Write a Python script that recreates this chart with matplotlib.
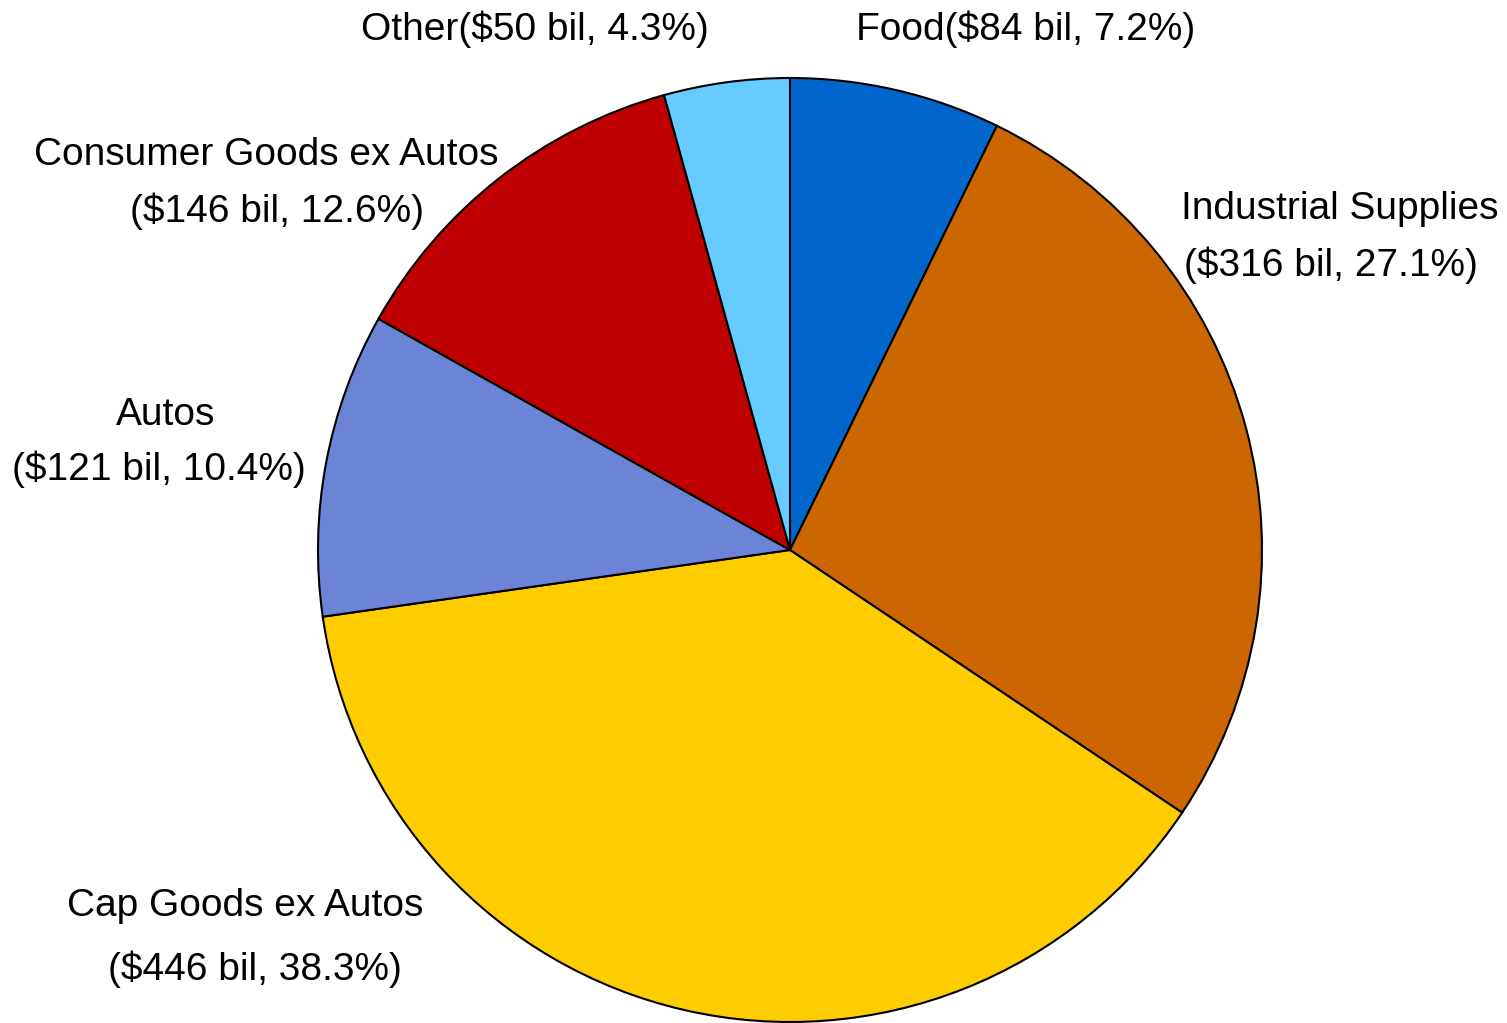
import matplotlib
matplotlib.use('Agg')
import matplotlib.pyplot as plt

# export categories, clockwise from 12 o'clock
categories = ['Food', 'Industrial Supplies', 'Cap Goods ex Autos', 'Autos',
              'Consumer Goods ex Autos', 'Other']
values = [84, 316, 446, 121, 146, 50]          # $ bil
shares = [7.2, 27.1, 38.3, 10.4, 12.6, 4.3]    # % of total
colors = ['#0066CC', '#CC6600', '#FFCC00', '#6B84D6', '#BF0000', '#66CCFF']

plt.rcParams['font.family'] = ['Liberation Sans', 'DejaVu Sans']

fig = plt.figure(figsize=(15.07, 10.23), dpi=100)
ax = fig.add_axes([0, 0, 1, 1])

# work in pixel-like units so the pie sits where it should
W, H = 1507, 1023
cx, cy, r = 790, H - 550, 472

ax.pie(values, colors=colors, startangle=90, counterclock=False,
       center=(cx, cy), radius=r, frame=True,
       wedgeprops=dict(edgecolor='black', linewidth=1.5))
ax.set_xlim(0, W)
ax.set_ylim(0, H)
ax.set_aspect('equal')
ax.axis('off')


def money(i):
    return f"(${values[i]} bil, {shares[i]}%)"


fs = 28
# (category index, line texts, x centres, y from top)
labels = [
    (0, [f"{categories[0]}{money(0)}"], [1026], [29]),
    (5, [f"{categories[5]}{money(5)}"], [535], [29]),
    (1, [categories[1], money(1)], [1340, 1331], [209, 265]),
    (4, [categories[4], money(4)], [266, 277], [155, 211]),
    (3, [categories[3], money(3)], [166, 159], [415, 469]),
    (2, [categories[2], money(2)], [245, 255], [906, 969]),
]
for idx, lines, xs, ys in labels:
    for txt, x, y in zip(lines, xs, ys):
        ax.text(x, H - y, txt, fontsize=fs, ha='center', va='center')

fig.savefig('out.png', dpi=100)
